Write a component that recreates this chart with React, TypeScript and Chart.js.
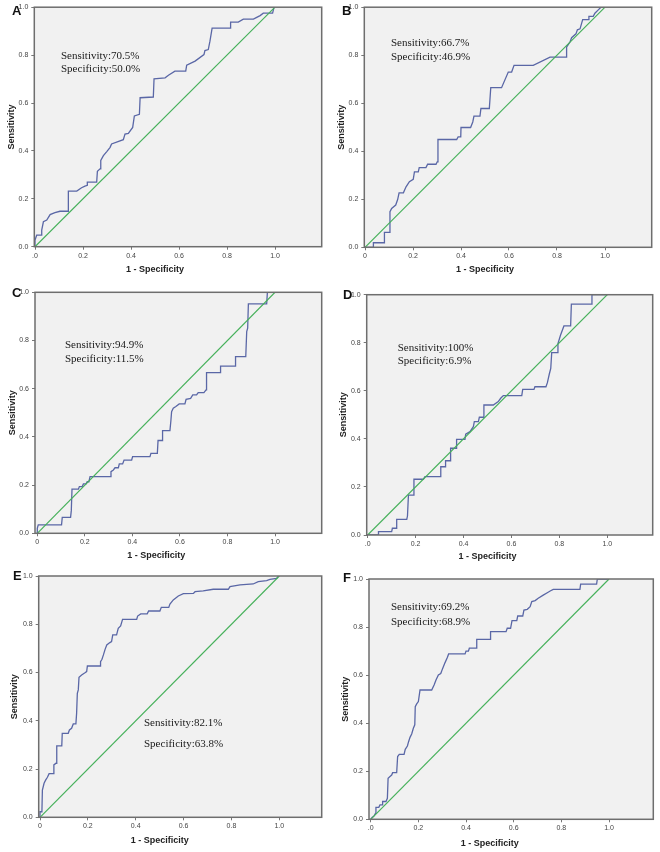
import React, { useEffect, useRef } from "react";
import { Chart, registerables } from "chart.js";

Chart.register(...registerables);

// ---------- DATA ----------
const PANEL_LETTERS = ["A", "B", "C", "D", "E", "F"];
const SENSITIVITY_TEXT = ["Sensitivity:70.5%", "Sensitivity:66.7%", "Sensitivity:94.9%", "Sensitivity:100%", "Sensitivity:82.1%", "Sensitivity:69.2%"];
const SPECIFICITY_TEXT = ["Specificity:50.0%", "Specificity:46.9%", "Specificity:11.5%", "Specificity:6.9%", "Specificity:63.8%", "Specificity:68.9%"];
const X_AXIS_TITLE = "1 - Specificity";
const Y_AXIS_TITLE = "Sensitivity";
const TICK_VALUES = [0, 0.2, 0.4, 0.6, 0.8, 1.0];
const Y_TICK_LABELS = ["0.0", "0.2", "0.4", "0.6", "0.8", "1.0"];
const X_TICK_LABELS_DOT = [".0", "0.2", "0.4", "0.6", "0.8", "1.0"];
const X_TICK_LABELS_ZERO = ["0", "0.2", "0.4", "0.6", "0.8", "1.0"];
const REF_X = [0, 1];
const REF_Y = [0, 1];

const A_FPR = [0, 0, 0.007, 0.025, 0.028, 0.035, 0.049, 0.063, 0.083, 0.104, 0.139, 0.139, 0.174, 0.194, 0.208, 0.218, 0.218, 0.257, 0.26, 0.271, 0.274, 0.285, 0.299, 0.313, 0.319, 0.368, 0.375, 0.389, 0.407, 0.414, 0.435, 0.438, 0.493, 0.496, 0.542, 0.556, 0.583, 0.628, 0.632, 0.667, 0.704, 0.708, 0.722, 0.729, 0.738, 0.815, 0.815, 0.847, 0.868, 0.91, 0.938, 0.951, 0.99, 0.996, 1];
const A_TPR = [0, 0.028, 0.048, 0.048, 0.069, 0.104, 0.111, 0.134, 0.142, 0.148, 0.148, 0.232, 0.232, 0.246, 0.253, 0.256, 0.27, 0.27, 0.315, 0.325, 0.36, 0.38, 0.397, 0.415, 0.429, 0.447, 0.47, 0.473, 0.498, 0.546, 0.553, 0.622, 0.625, 0.701, 0.705, 0.716, 0.733, 0.733, 0.758, 0.775, 0.802, 0.819, 0.823, 0.858, 0.913, 0.913, 0.938, 0.938, 0.95, 0.95, 0.965, 0.975, 0.975, 1.0, 1];

const B_FPR = [0, 0.035, 0.035, 0.081, 0.081, 0.101, 0.104, 0.111, 0.128, 0.136, 0.142, 0.16, 0.171, 0.185, 0.201, 0.206, 0.222, 0.226, 0.254, 0.261, 0.296, 0.301, 0.304, 0.382, 0.388, 0.399, 0.4, 0.44, 0.449, 0.454, 0.479, 0.483, 0.518, 0.524, 0.569, 0.597, 0.611, 0.621, 0.701, 0.771, 0.84, 0.84, 0.854, 0.861, 0.879, 0.885, 0.896, 0.907, 0.93, 0.933, 0.951, 0.958, 0.972, 0.983, 1];
const B_TPR = [0, 0, 0.019, 0.019, 0.062, 0.062, 0.148, 0.162, 0.176, 0.199, 0.227, 0.227, 0.252, 0.273, 0.283, 0.314, 0.314, 0.332, 0.332, 0.346, 0.346, 0.356, 0.449, 0.449, 0.46, 0.46, 0.499, 0.499, 0.522, 0.546, 0.546, 0.578, 0.578, 0.665, 0.665, 0.73, 0.73, 0.758, 0.758, 0.792, 0.792, 0.834, 0.855, 0.873, 0.889, 0.906, 0.91, 0.948, 0.948, 0.962, 0.962, 0.975, 0.989, 1.0, 1];

const C_FPR = [0, 0, 0.004, 0.102, 0.105, 0.14, 0.143, 0.146, 0.173, 0.177, 0.189, 0.194, 0.205, 0.21, 0.217, 0.222, 0.306, 0.31, 0.32, 0.327, 0.341, 0.345, 0.359, 0.365, 0.397, 0.401, 0.474, 0.478, 0.505, 0.508, 0.525, 0.527, 0.558, 0.562, 0.565, 0.572, 0.583, 0.597, 0.621, 0.626, 0.645, 0.654, 0.67, 0.677, 0.701, 0.71, 0.712, 0.769, 0.771, 0.832, 0.834, 0.877, 0.881, 0.885, 0.888, 0.965, 0.968, 1];
const C_TPR = [0, 0.021, 0.035, 0.035, 0.066, 0.066, 0.094, 0.183, 0.183, 0.194, 0.194, 0.205, 0.205, 0.214, 0.214, 0.235, 0.235, 0.256, 0.263, 0.272, 0.272, 0.288, 0.288, 0.304, 0.304, 0.318, 0.318, 0.332, 0.332, 0.385, 0.385, 0.426, 0.426, 0.467, 0.505, 0.519, 0.526, 0.537, 0.537, 0.556, 0.56, 0.574, 0.574, 0.584, 0.584, 0.595, 0.667, 0.667, 0.694, 0.694, 0.733, 0.733, 0.837, 0.851, 0.952, 0.952, 1.0, 1];

const D_FPR = [0, 0.045, 0.045, 0.1, 0.103, 0.121, 0.121, 0.163, 0.166, 0.17, 0.191, 0.193, 0.232, 0.239, 0.302, 0.305, 0.323, 0.325, 0.344, 0.346, 0.369, 0.371, 0.406, 0.409, 0.427, 0.441, 0.445, 0.462, 0.466, 0.483, 0.485, 0.524, 0.545, 0.555, 0.566, 0.643, 0.647, 0.694, 0.698, 0.744, 0.75, 0.758, 0.764, 0.768, 0.791, 0.794, 0.805, 0.819, 0.847, 0.85, 0.935, 0.936, 1];
const D_TPR = [0, 0, 0.014, 0.014, 0.028, 0.028, 0.065, 0.065, 0.079, 0.166, 0.166, 0.232, 0.232, 0.243, 0.243, 0.284, 0.284, 0.309, 0.309, 0.361, 0.361, 0.398, 0.398, 0.42, 0.43, 0.451, 0.472, 0.472, 0.49, 0.49, 0.541, 0.541, 0.555, 0.569, 0.58, 0.58, 0.606, 0.606, 0.617, 0.617, 0.634, 0.67, 0.693, 0.759, 0.759, 0.797, 0.832, 0.87, 0.87, 0.961, 0.961, 1.0, 1];

const E_FPR = [0, 0, 0.008, 0.01, 0.017, 0.024, 0.031, 0.038, 0.056, 0.058, 0.067, 0.07, 0.091, 0.093, 0.118, 0.123, 0.132, 0.139, 0.15, 0.153, 0.156, 0.16, 0.163, 0.174, 0.188, 0.195, 0.198, 0.251, 0.253, 0.259, 0.265, 0.272, 0.279, 0.292, 0.299, 0.304, 0.32, 0.327, 0.337, 0.345, 0.404, 0.408, 0.421, 0.448, 0.454, 0.501, 0.507, 0.538, 0.543, 0.557, 0.578, 0.599, 0.641, 0.648, 0.682, 0.724, 0.787, 0.794, 0.836, 0.891, 0.912, 0.947, 0.961, 0.989, 0.996, 1];
const E_TPR = [0, 0.023, 0.023, 0.113, 0.141, 0.155, 0.166, 0.181, 0.181, 0.217, 0.224, 0.296, 0.296, 0.348, 0.348, 0.362, 0.369, 0.387, 0.387, 0.431, 0.514, 0.528, 0.58, 0.59, 0.599, 0.604, 0.627, 0.627, 0.645, 0.655, 0.673, 0.696, 0.714, 0.724, 0.728, 0.756, 0.756, 0.783, 0.793, 0.82, 0.82, 0.834, 0.843, 0.843, 0.855, 0.855, 0.87, 0.87, 0.884, 0.901, 0.917, 0.927, 0.928, 0.935, 0.938, 0.945, 0.945, 0.956, 0.963, 0.967, 0.977, 0.981, 0.986, 0.99, 1.0, 1];

const F_FPR = [0, 0.006, 0.014, 0.02, 0.022, 0.034, 0.039, 0.048, 0.05, 0.064, 0.07, 0.073, 0.081, 0.088, 0.092, 0.109, 0.113, 0.12, 0.14, 0.145, 0.154, 0.159, 0.165, 0.172, 0.179, 0.185, 0.187, 0.193, 0.2, 0.207, 0.256, 0.266, 0.274, 0.284, 0.294, 0.302, 0.312, 0.322, 0.327, 0.396, 0.4, 0.41, 0.414, 0.442, 0.445, 0.501, 0.503, 0.568, 0.573, 0.587, 0.593, 0.613, 0.617, 0.638, 0.643, 0.657, 0.669, 0.676, 0.69, 0.703, 0.724, 0.741, 0.755, 0.766, 0.878, 0.881, 0.948, 0.951, 1];
const F_TPR = [0, 0.008, 0.014, 0.025, 0.05, 0.05, 0.06, 0.06, 0.074, 0.074, 0.087, 0.171, 0.178, 0.184, 0.194, 0.194, 0.261, 0.27, 0.27, 0.291, 0.305, 0.323, 0.341, 0.355, 0.379, 0.393, 0.469, 0.48, 0.49, 0.538, 0.538, 0.559, 0.58, 0.601, 0.607, 0.628, 0.652, 0.674, 0.688, 0.688, 0.7, 0.7, 0.712, 0.712, 0.749, 0.749, 0.781, 0.781, 0.795, 0.795, 0.827, 0.827, 0.846, 0.846, 0.871, 0.874, 0.885, 0.906, 0.91, 0.92, 0.933, 0.943, 0.951, 0.957, 0.957, 0.979, 0.979, 1.0, 1];

const ROC_FPR = [A_FPR, B_FPR, C_FPR, D_FPR, E_FPR, F_FPR];
const ROC_TPR = [A_TPR, B_TPR, C_TPR, D_TPR, E_TPR, F_TPR];
const X_TICK_LABEL_SETS = [X_TICK_LABELS_DOT, X_TICK_LABELS_ZERO, X_TICK_LABELS_ZERO, X_TICK_LABELS_DOT, X_TICK_LABELS_ZERO, X_TICK_LABELS_DOT];

// ---------- LAYOUT (page coordinates) ----------
const LAYOUT = [
  { cx: 0, cy: 0, w: 330, h: 282, L: 34.3, R: 321.7, T: 5.7, B: 246.7, x0: 35, x1: 275, letter: [12, 15], text: [61, 56, 69], yTitleX: 11.5, xTitleY: 270 },
  { cx: 330, cy: 0, w: 330, h: 282, L: 364.3, R: 651.7, T: 6.7, B: 247.3, x0: 365, x1: 605, letter: [342, 15], text: [391, 43, 57], yTitleX: 341.5, xTitleY: 270 },
  { cx: 0, cy: 282, w: 330, h: 283, L: 35, R: 321.7, T: 292.3, B: 533.3, x0: 37.3, x1: 275, letter: [12, 297], text: [65, 345, 359], yTitleX: 12.7, xTitleY: 556 },
  { cx: 330, cy: 282, w: 330, h: 283, L: 366.7, R: 652.7, T: 294.7, B: 535, x0: 367.7, x1: 607.3, letter: [343, 299], text: [397.7, 347.7, 361.3], yTitleX: 343.3, xTitleY: 557 },
  { cx: 0, cy: 565, w: 330, h: 287, L: 38.7, R: 321.7, T: 576, B: 817.3, x0: 40, x1: 279.3, letter: [13, 580], text: [144, 723.3, 744.3], yTitleX: 14.3, xTitleY: 841 },
  { cx: 330, cy: 565, w: 330, h: 287, L: 369, R: 653.3, T: 579, B: 819.3, x0: 370.7, x1: 609, letter: [343, 582], text: [391, 606.7, 621.7], yTitleX: 346, xTitleY: 844 },
];

const CURVE_COLOR = "#5a67a6";
const REF_COLOR = "#45b05a";
const BG_COLOR = "#f1f1f1";
const FRAME_COLOR = "#6e6e6e";
const SANS = '"Liberation Sans", Arial, sans-serif';
const SERIF = '"Liberation Serif", "Times New Roman", serif';

function Panel({ index }: { index: number }) {
  const ref = useRef<HTMLCanvasElement | null>(null);
  const lay = LAYOUT[index];

  useEffect(() => {
    const canvas = ref.current;
    if (!canvas) return;
    const span = lay.x1 - lay.x0;
    const xMin = (lay.L - lay.x0) / span;
    const xMax = (lay.R - lay.x0) / span;
    const fpr = ROC_FPR[index];
    const tpr = ROC_TPR[index];
    const xLabels = X_TICK_LABEL_SETS[index];

    const decor = {
      id: "decor" + index,
      beforeDraw(chart: any) {
        const { ctx, chartArea } = chart;
        ctx.save();
        ctx.fillStyle = BG_COLOR;
        ctx.fillRect(chartArea.left, chartArea.top, chartArea.right - chartArea.left, chartArea.bottom - chartArea.top);
        ctx.restore();
      },
      afterDatasetsDraw(chart: any) {
        const { ctx, chartArea } = chart;
        ctx.save();
        ctx.strokeStyle = FRAME_COLOR;
        ctx.lineWidth = 1.5;
        ctx.strokeRect(chartArea.left, chartArea.top, chartArea.right - chartArea.left, chartArea.bottom - chartArea.top);

        // panel letter
        ctx.fillStyle = "#111";
        ctx.font = "bold 13px " + SANS;
        ctx.textAlign = "left";
        ctx.textBaseline = "alphabetic";
        ctx.fillText(PANEL_LETTERS[index], lay.letter[0] - lay.cx, lay.letter[1] - lay.cy);

        // annotation
        ctx.fillStyle = "#1a1a1a";
        ctx.font = "11px " + SERIF;
        ctx.textBaseline = "middle";
        ctx.fillText(SENSITIVITY_TEXT[index], lay.text[0] - lay.cx, lay.text[1] - lay.cy);
        ctx.fillText(SPECIFICITY_TEXT[index], lay.text[0] - lay.cx, lay.text[2] - lay.cy);

        // axis titles
        const xs = chart.scales.x;
        const ys = chart.scales.y;
        ctx.fillStyle = "#222";
        ctx.font = "bold 9px " + SANS;
        ctx.textAlign = "center";
        ctx.textBaseline = "middle";
        ctx.fillText(X_AXIS_TITLE, xs.getPixelForValue(0.5), lay.xTitleY - lay.cy);
        ctx.translate(lay.yTitleX - lay.cx, ys.getPixelForValue(0.5));
        ctx.rotate(-Math.PI / 2);
        ctx.fillText(Y_AXIS_TITLE, 0, 0);
        ctx.restore();
      },
    };

    const chart = new Chart(canvas, {
      type: "scatter",
      data: {
        datasets: [
          {
            data: REF_X.map((x, i) => ({ x, y: REF_Y[i] })),
            showLine: true,
            borderColor: REF_COLOR,
            borderWidth: 1.2,
            pointRadius: 0,
            tension: 0,
          },
          {
            data: fpr.map((x, i) => ({ x, y: tpr[i] })),
            showLine: true,
            borderColor: CURVE_COLOR,
            borderWidth: 1.3,
            pointRadius: 0,
            tension: 0,
          },
        ],
      },
      options: {
        animation: false,
        responsive: false,
        devicePixelRatio: 1,
        events: [],
        layout: {
          padding: { left: 0, top: lay.T - lay.cy, right: lay.cx + lay.w - lay.R, bottom: 0 },
        },
        plugins: { legend: { display: false }, tooltip: { enabled: false }, title: { display: false } },
        scales: {
          x: {
            type: "linear",
            min: xMin,
            max: xMax,
            afterBuildTicks: (s: any) => {
              s.ticks = TICK_VALUES.map((v) => ({ value: v }));
            },
            afterFit: (s: any) => {
              s.height = lay.cy + lay.h - lay.B;
            },
            ticks: {
              callback: (_v: any, i: number) => xLabels[i],
              font: { size: 7, family: SANS },
              color: "#444",
              padding: 2,
              maxRotation: 0,
              autoSkip: false,
            },
            grid: { drawOnChartArea: false, drawTicks: true, tickLength: 3, color: "#777" },
            border: { display: false },
          },
          y: {
            type: "linear",
            min: 0,
            max: 1,
            afterBuildTicks: (s: any) => {
              s.ticks = TICK_VALUES.map((v) => ({ value: v }));
            },
            afterFit: (s: any) => {
              s.width = lay.L - lay.cx;
            },
            ticks: {
              callback: (_v: any, i: number) => Y_TICK_LABELS[i],
              font: { size: 7, family: SANS },
              color: "#444",
              padding: 3,
              autoSkip: false,
            },
            grid: { drawOnChartArea: false, drawTicks: true, tickLength: 3, color: "#777" },
            border: { display: false },
          },
        },
      },
      plugins: [decor],
    } as any);

    return () => chart.destroy();
  }, [index]);

  return (
    <canvas
      ref={ref}
      width={lay.w}
      height={lay.h}
      style={{ position: "absolute", left: lay.cx, top: lay.cy, width: lay.w, height: lay.h }}
    />
  );
}

export default function App() {
  return (
    <div style={{ position: "absolute", left: 0, top: 0, width: 660, height: 852, background: "#fff", overflow: "hidden" }}>
      {PANEL_LETTERS.map((_, i) => (
        <Panel key={i} index={i} />
      ))}
    </div>
  );
}
